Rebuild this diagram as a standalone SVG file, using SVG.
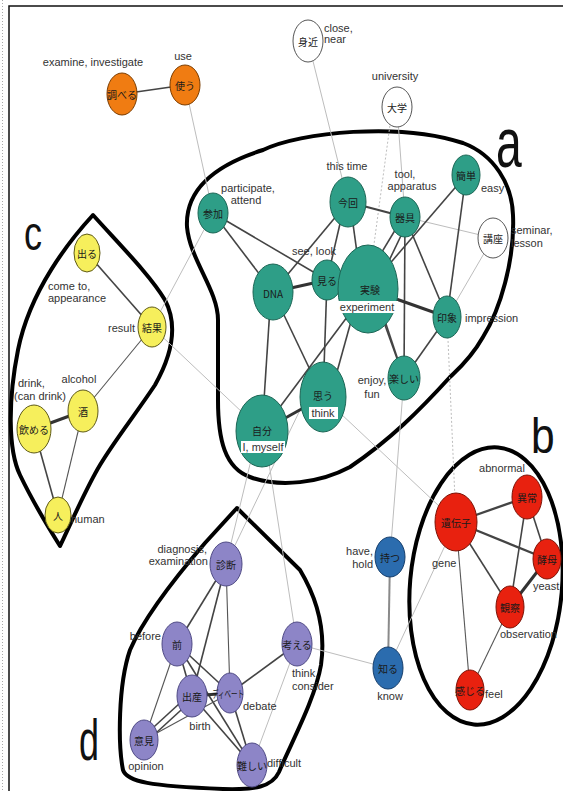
<svg xmlns="http://www.w3.org/2000/svg" width="563" height="791" viewBox="0 0 563 791">
<style>
.bg{fill:#fff}
.fr{stroke:#111;stroke-width:1.5;fill:none}
.hull{fill:none;stroke:#000;stroke-width:4;stroke-linejoin:round}
.e{stroke:#444;stroke-width:1.6;fill:none}
.et{stroke:#333;stroke-width:3;fill:none}
.em{stroke:#444;stroke-width:2.3;fill:none}
.ef{stroke:#555;stroke-width:1.1;fill:none}
.el{stroke:#bdbdbd;stroke-width:1;fill:none}
.ed{stroke:#bdbdbd;stroke-width:1;fill:none;stroke-dasharray:2 2}
.eg{stroke:#8a8a8a;stroke-width:2;fill:none}
.teal{fill:#2e9e87;stroke:#1c6655;stroke-width:1}
.org{fill:#f07c12;stroke:#7a3c00;stroke-width:1}
.wht{fill:#fff;stroke:#555;stroke-width:1}
.yel{fill:#f6ef5c;stroke:#5e5a18;stroke-width:1}
.red{fill:#e8210f;stroke:#7d1206;stroke-width:1}
.blu{fill:#2b6cae;stroke:#173f6c;stroke-width:1}
.pur{fill:#8d85c7;stroke:#4f4a85;stroke-width:1}
.jp{font-family:"Noto Sans CJK JP","Noto Sans CJK SC",sans-serif;font-size:10px;fill:#1a1a1a;text-anchor:middle;dominant-baseline:central}
.lb{font-family:"Liberation Sans",Arial,sans-serif;font-size:11px;fill:#333}
.m{text-anchor:middle}
.r{text-anchor:end}
.big{font-family:"Liberation Sans",Arial,sans-serif;fill:#111}
.box{fill:#fff}
</style>
<rect class="bg" x="0" y="0" width="563" height="791"/>
<line x1="2.5" y1="0" x2="2.5" y2="791" stroke="#aaa" stroke-width="1" stroke-dasharray="1 2"/>
<path class="fr" d="M9,791 L9,6 L563,6"/>

<g id="hulls">
<path class="hull" d="M263,150 C300,132 400,122 463,143 C495,155 512,185 513,215 C515,260 500,310 483,337 C470,360 455,372 450,377 C420,410 390,440 350,467 C320,483 280,488 250,477 C225,468 218,440 218,400 L218,320 C218,290 190,260 187,227 C185,190 215,165 263,150 Z"/>
<ellipse class="hull" cx="486" cy="586" rx="76" ry="139" transform="rotate(5 486 586)"/>
<path class="hull" d="M93,215 C70,240 30,290 18,350 C8,400 8,450 20,475 C32,500 50,530 60,546 C68,530 85,490 100,465 C115,440 135,415 155,385 C172,355 178,325 165,300 C150,275 120,245 93,215 Z"/>
<path class="hull" d="M237,508 L205,543 C180,572 145,615 130,650 C118,685 118,745 123,770 C127,782 150,786 223,789 C255,790 272,787 279,772 C290,745 315,700 321,665 C326,630 318,600 300,570 Z"/>
<text class="big" font-size="70" transform="translate(496,167) scale(0.66,1)">a</text>
<text class="big" font-size="50" transform="translate(531,453) scale(0.85,1)">b</text>
<text class="big" font-size="48" transform="translate(24,250) scale(0.75,1)">c</text>
<text class="big" font-size="58" transform="translate(79,760) scale(0.62,1)">d</text>
</g>

<g id="connectors">
<line class="e" x1="122" y1="94" x2="185" y2="85"/>
<line class="el" x1="185" y1="85" x2="213" y2="213"/>
<line class="el" x1="308" y1="41" x2="348" y2="202"/>
<line class="el" x1="397" y1="107" x2="405" y2="217"/>
<line class="ed" x1="392" y1="110" x2="368" y2="289"/>
<line class="el" x1="493" y1="238" x2="405" y2="217"/>
<line class="el" x1="493" y1="238" x2="447" y2="317"/>
<line class="el" x1="152" y1="327" x2="213" y2="213"/>
<line class="el" x1="152" y1="327" x2="262" y2="431"/>
<line class="el" x1="323" y1="397" x2="456" y2="522"/>
<line class="ed" x1="447" y1="317" x2="456" y2="522"/>
<line class="el" x1="404" y1="378" x2="390" y2="557"/>
<line class="el" x1="388" y1="668" x2="456" y2="522"/>
<line class="el" x1="297" y1="644" x2="388" y2="668"/>
<line class="eg" x1="390" y1="557" x2="388" y2="668"/>
<line class="el" x1="258" y1="431" x2="226" y2="564"/>
<line class="el" x1="300" y1="410" x2="226" y2="564"/>
<line class="el" x1="264" y1="431" x2="297" y2="644"/>
<line class="el" x1="297" y1="644" x2="252" y2="765"/>
<!-- a -->
<line class="e" x1="213" y1="213" x2="327" y2="280"/>
<line class="e" x1="213" y1="213" x2="273" y2="292"/>
<line class="e" x1="348" y1="202" x2="273" y2="292"/>
<line class="e" x1="345" y1="202" x2="327" y2="280"/>
<line class="e" x1="350" y1="202" x2="362" y2="289"/>
<line class="em" x1="348" y1="202" x2="405" y2="217"/>
<line class="e" x1="403" y1="217" x2="362" y2="285"/>
<line class="e" x1="409" y1="219" x2="374" y2="292"/>
<line class="e" x1="466" y1="175" x2="368" y2="289"/>
<line class="e" x1="466" y1="175" x2="447" y2="317"/>
<line class="e" x1="405" y1="217" x2="447" y2="317"/>
<line class="e" x1="405" y1="217" x2="404" y2="378"/>
<line class="et" x1="368" y1="289" x2="447" y2="317"/>
<line class="et" x1="273" y1="292" x2="327" y2="280"/>
<line class="e" x1="273" y1="292" x2="323" y2="397"/>
<line class="e" x1="271" y1="292" x2="262" y2="431"/>
<line class="e" x1="327" y1="280" x2="323" y2="397"/>
<line class="e" x1="360" y1="289" x2="330" y2="397"/>
<line class="e" x1="368" y1="289" x2="262" y2="431"/>
<line class="e" x1="372" y1="289" x2="404" y2="378"/>
<line class="e" x1="378" y1="300" x2="404" y2="378"/>
<line class="e" x1="447" y1="317" x2="404" y2="378"/>
<line class="et" x1="323" y1="397" x2="262" y2="431"/>
<!-- c -->
<line class="e" x1="87" y1="253" x2="152" y2="327"/>
<line class="ef" x1="152" y1="327" x2="83" y2="411"/>
<line class="et" x1="83" y1="411" x2="34" y2="429"/>
<line class="e" x1="34" y1="429" x2="58" y2="515"/>
<line class="ef" x1="83" y1="411" x2="58" y2="515"/>
<!-- b -->
<line class="em" x1="456" y1="522" x2="527" y2="497"/>
<line class="em" x1="456" y1="522" x2="547" y2="559"/>
<line class="e" x1="456" y1="522" x2="510" y2="607"/>
<line class="ef" x1="456" y1="522" x2="470" y2="690"/>
<line class="e" x1="527" y1="497" x2="547" y2="559"/>
<line class="e" x1="527" y1="497" x2="510" y2="607"/>
<line class="et" x1="547" y1="559" x2="510" y2="607"/>
<line class="ef" x1="510" y1="607" x2="470" y2="690"/>
<!-- d -->
<line class="e" x1="226" y1="564" x2="177" y2="644"/>
<line class="e" x1="226" y1="564" x2="192" y2="696"/>
<line class="ef" x1="226" y1="564" x2="230" y2="693"/>
<line class="e" x1="177" y1="644" x2="192" y2="696"/>
<line class="e" x1="177" y1="644" x2="230" y2="693"/>
<line class="ef" x1="177" y1="644" x2="144" y2="740"/>
<line class="e" x1="177" y1="644" x2="252" y2="765"/>
<line class="et" x1="192" y1="696" x2="230" y2="693"/>
<line class="e" x1="192" y1="692" x2="144" y2="736"/>
<line class="e" x1="192" y1="700" x2="144" y2="744"/>
<line class="ef" x1="230" y1="693" x2="144" y2="740"/>
<line class="e" x1="192" y1="696" x2="252" y2="765"/>
<line class="e" x1="230" y1="693" x2="252" y2="765"/>
<line class="e" x1="230" y1="693" x2="297" y2="644"/>
</g>

<g id="n-shiraberu"><ellipse class="org" cx="122" cy="94" rx="15" ry="21"/><text class="jp" x="122" y="94" font-size="9">調べる</text><text class="lb m" x="93" y="66">examine, investigate</text></g>
<g id="n-tsukau"><ellipse class="org" cx="185" cy="85" rx="15" ry="20"/><text class="jp" x="185" y="85">使う</text><text class="lb m" x="183" y="60">use</text></g>
<g id="n-mijika"><ellipse class="wht" cx="308" cy="41" rx="15" ry="21"/><text class="jp" x="308" y="41">身近</text><text class="lb" x="324" y="32">close,</text><text class="lb" x="324" y="43">near</text></g>
<g id="n-daigaku"><ellipse class="wht" cx="397" cy="107" rx="15" ry="20"/><text class="jp" x="397" y="107">大学</text><text class="lb m" x="395" y="80">university</text></g>
<g id="n-kouza"><ellipse class="wht" cx="493" cy="238" rx="15" ry="20"/><text class="jp" x="493" y="238">講座</text><text class="lb" x="511" y="234">seminar,</text><text class="lb" x="511" y="247">lesson</text></g>
<g id="n-sanka"><ellipse class="teal" cx="213" cy="213" rx="15" ry="20"/><text class="jp" x="213" y="213">参加</text><text class="lb m" x="248" y="192">participate,</text><text class="lb m" x="246" y="204">attend</text></g>
<g id="n-konkai"><ellipse class="teal" cx="348" cy="202" rx="18" ry="25"/><text class="jp" x="348" y="202">今回</text><text class="lb m" x="347" y="170">this time</text></g>
<g id="n-kigu"><ellipse class="teal" cx="405" cy="217" rx="15" ry="20"/><text class="jp" x="405" y="217">器具</text><text class="lb m" x="405" y="178">tool,</text><text class="lb m" x="412" y="190">apparatus</text></g>
<g id="n-kantan"><ellipse class="teal" cx="466" cy="175" rx="14" ry="20"/><text class="jp" x="466" y="175">簡単</text><text class="lb" x="481" y="192">easy</text></g>
<g id="n-miru"><ellipse class="teal" cx="327" cy="280" rx="15" ry="20"/><text class="jp" x="327" y="280">見る</text><text class="lb m" x="314" y="255">see, look</text></g>
<g id="n-dna"><ellipse class="teal" cx="273" cy="292" rx="20" ry="28"/><text class="jp" x="273" y="293" font-family="Liberation Sans,Arial,sans-serif">DNA</text></g>
<g id="n-jikken"><ellipse class="teal" cx="368" cy="289" rx="30" ry="44"/><text class="jp" x="370" y="289" font-size="13">実験</text><rect class="box" x="336" y="301" width="62" height="12"/><text class="lb m" x="367" y="311">experiment</text></g>
<g id="n-inshou"><ellipse class="teal" cx="447" cy="317" rx="14" ry="21"/><text class="jp" x="447" y="317">印象</text><text class="lb" x="465" y="322">impression</text></g>
<g id="n-tanoshii"><ellipse class="teal" cx="404" cy="378" rx="16" ry="22"/><text class="jp" x="404" y="378" font-size="9.5">楽しい</text><text class="lb m" x="372" y="384">enjoy,</text><text class="lb m" x="372" y="398">fun</text></g>
<g id="n-omou"><ellipse class="teal" cx="323" cy="397" rx="23" ry="35"/><text class="jp" x="323" y="395" font-size="12">思う</text><rect class="box" x="309" y="407" width="29" height="12"/><text class="lb m" x="323" y="417">think</text></g>
<g id="n-jibun"><ellipse class="teal" cx="262" cy="431" rx="26" ry="36"/><text class="jp" x="262" y="430" font-size="12">自分</text><rect class="box" x="241" y="441" width="44" height="12"/><text class="lb m" x="263" y="451">I, myself</text></g>

<g id="n-deru"><ellipse class="yel" cx="87" cy="253" rx="13" ry="19"/><text class="jp" x="87" y="253">出る</text><text class="lb" x="48" y="290">come to,</text><text class="lb" x="48" y="302">appearance</text></g>
<g id="n-kekka"><ellipse class="yel" cx="152" cy="327" rx="14" ry="20"/><text class="jp" x="152" y="327">結果</text><text class="lb r" x="135" y="332">result</text></g>
<g id="n-sake"><ellipse class="yel" cx="83" cy="411" rx="15" ry="21"/><text class="jp" x="83" y="411">酒</text><text class="lb m" x="79" y="383">alcohol</text></g>
<g id="n-nomeru"><ellipse class="yel" cx="34" cy="429" rx="17" ry="24"/><text class="jp" x="34" y="429" font-size="9.5">飲める</text><text class="lb" x="18" y="387">drink,</text><text class="lb" x="14" y="400">(can drink)</text></g>
<g id="n-hito"><ellipse class="yel" cx="58" cy="515" rx="13" ry="18"/><text class="jp" x="58" y="515">人</text><text class="lb" x="71" y="523">human</text></g>

<g id="n-idenshi"><ellipse class="red" cx="456" cy="522" rx="21" ry="29"/><text class="jp" x="456" y="522">遺伝子</text><text class="lb" x="432" y="567">gene</text></g>
<g id="n-ijou"><ellipse class="red" cx="527" cy="497" rx="15" ry="22"/><text class="jp" x="527" y="497">異常</text><text class="lb m" x="502" y="472">abnormal</text></g>
<g id="n-koubo"><ellipse class="red" cx="547" cy="559" rx="14" ry="20"/><text class="jp" x="547" y="559">酵母</text><text class="lb" x="533" y="590">yeast</text></g>
<g id="n-kansatsu"><ellipse class="red" cx="510" cy="607" rx="14" ry="21"/><text class="jp" x="510" y="607">観察</text><text class="lb" x="500" y="638">observation</text></g>
<g id="n-kanjiru"><ellipse class="red" cx="470" cy="690" rx="14" ry="20"/><text class="jp" x="470" y="690" font-size="9">感じる</text><text class="lb" x="485" y="698">feel</text></g>

<g id="n-motsu"><ellipse class="blu" cx="390" cy="557" rx="15" ry="20"/><text class="jp" x="390" y="557">持つ</text><text class="lb r" x="373" y="555">have,</text><text class="lb r" x="373" y="568">hold</text></g>
<g id="n-shiru"><ellipse class="blu" cx="388" cy="668" rx="15" ry="21"/><text class="jp" x="388" y="668">知る</text><text class="lb m" x="390" y="700">know</text></g>

<g id="n-shindan"><ellipse class="pur" cx="226" cy="564" rx="16" ry="22"/><text class="jp" x="226" y="564">診断</text><text class="lb r" x="207" y="553">diagnosis,</text><text class="lb r" x="208" y="565">examination</text></g>
<g id="n-mae"><ellipse class="pur" cx="177" cy="644" rx="15" ry="22"/><text class="jp" x="177" y="644">前</text><text class="lb r" x="161" y="640">before</text></g>
<g id="n-kangaeru"><ellipse class="pur" cx="297" cy="644" rx="15" ry="22"/><text class="jp" x="297" y="644" font-size="9">考える</text><text class="lb" x="292" y="677">think,</text><text class="lb" x="292" y="690">consider</text></g>
<g id="n-shussan"><ellipse class="pur" cx="192" cy="696" rx="15" ry="21"/><text class="jp" x="192" y="696">出産</text><text class="lb m" x="200" y="730">birth</text></g>
<g id="n-debate"><ellipse class="pur" cx="230" cy="693" rx="13" ry="20"/><text class="jp" x="228" y="693" font-size="8.5" textLength="32" lengthAdjust="spacingAndGlyphs">ディベート</text><text class="lb" x="243" y="710">debate</text></g>
<g id="n-iken"><ellipse class="pur" cx="144" cy="740" rx="14" ry="20"/><text class="jp" x="144" y="740">意見</text><text class="lb m" x="146" y="770">opinion</text></g>
<g id="n-muzukashii"><ellipse class="pur" cx="252" cy="765" rx="15" ry="22"/><text class="jp" x="252" y="765" font-size="9">難しい</text><text class="lb" x="267" y="767">difficult</text></g>
</svg>
